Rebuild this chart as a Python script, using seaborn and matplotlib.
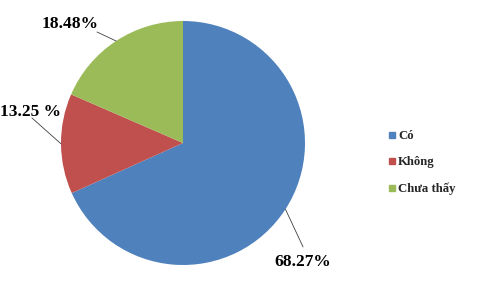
import numpy as np
import matplotlib
matplotlib.use("Agg")
import matplotlib.pyplot as plt
from matplotlib.lines import Line2D
import seaborn as sns

categories = ["Có", "Không", "Chưa thấy"]
values = [68.27, 13.25, 18.48]
value_labels = ["68.27%", "13.25 %", "18.48%"]
colors = ["#4F81BD", "#C0504D", "#9BBB59"]

sns.set_theme(style="white")
plt.rcParams['font.family'] = ['Liberation Serif', 'DejaVu Serif']

fig = plt.figure(figsize=(4.99, 2.85), dpi=100)
W, H = 499, 285
cx, cy, r = 183, 143, 122
ax = fig.add_axes([(cx - r) / W, (H - cy - r) / H, 2 * r / W, 2 * r / H])

wedges, _ = ax.pie(values, colors=colors, startangle=90, counterclock=False,
                   radius=1.0, wedgeprops=dict(linewidth=0))
ax.set_xlim(-1, 1)
ax.set_ylim(-1, 1)
ax.set_aspect('auto')
ax.axis('off')

# label text positions and leader-line end points (data units, layout only)
text_pos = [(0.98, -0.975), (-1.246, 0.255), (-0.926, 0.972)]
line_end = [(0.984, -0.852), (-1.238, 0.205), (-0.705, 0.91)]

for w, lab, tp, le in zip(wedges, value_labels, text_pos, line_end):
    mid = np.deg2rad((w.theta1 + w.theta2) / 2)
    ex, ey = np.cos(mid), np.sin(mid)
    ax.plot([ex, le[0]], [ey, le[1]], color="#404040", lw=0.6, clip_on=False)
    ax.text(tp[0], tp[1], lab, ha='center', va='center', fontsize=12.5,
            fontweight='bold', color='black', clip_on=False)

handles = [Line2D([0], [0], marker='s', linestyle='none', markersize=4.4,
                  markerfacecolor=c, markeredgecolor=c) for c in colors]
leg = fig.legend(handles, categories, loc='upper left',
                 bbox_to_anchor=(388 / W, 1 - 130 / H), frameon=False,
                 prop=dict(family='Liberation Serif', weight='bold', size=9.2),
                 handlelength=0.55, handletextpad=0.25, labelspacing=1.13,
                 borderpad=0, borderaxespad=0)

fig.savefig("out.png", dpi=100, facecolor='white')
